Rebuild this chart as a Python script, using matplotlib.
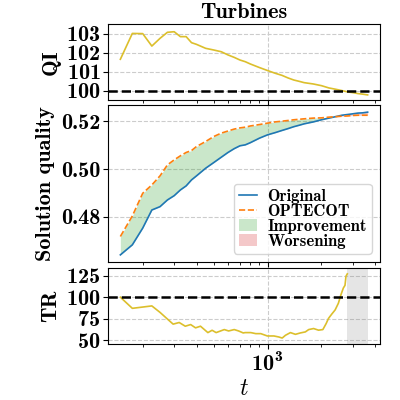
import matplotlib
matplotlib.use('Agg')
import matplotlib.pyplot as plt

plt.rcParams['font.family'] = 'serif'
plt.rcParams['font.serif'] = ['cmb10', 'DejaVu Serif']
plt.rcParams['mathtext.fontset'] = 'cm'
plt.rcParams['axes.formatter.use_mathtext'] = True

# shared time grid for QI and solution quality
t = [150, 175, 200, 225, 250, 275, 300, 325, 350, 375, 400, 450, 500, 550, 600,
     650, 700, 750, 800, 900, 1000, 1100, 1200, 1300, 1400, 1500, 1600, 1800,
     2000, 2200, 2400, 2600, 2800, 3000, 3200, 3400, 3625]

qi = [101.66, 103.03, 103.02, 102.36, 102.77, 103.09, 103.12, 102.86, 102.86,
      102.54, 102.45, 102.24, 102.15, 102.06, 101.89, 101.76, 101.62, 101.53,
      101.41, 101.22, 101.06, 100.92, 100.81, 100.67, 100.56, 100.49, 100.42,
      100.35, 100.26, 100.14, 100.07, 100.0, 99.93, 99.89, 99.84, 99.81, 99.77]

original = [0.4641, 0.4683, 0.4753, 0.4829, 0.4843, 0.4871, 0.4889, 0.4913,
            0.4930, 0.4955, 0.4972, 0.5004, 0.5028, 0.5050, 0.5070, 0.5086,
            0.5098, 0.5102, 0.5111, 0.5130, 0.5144, 0.5153, 0.5162, 0.5170,
            0.5178, 0.5184, 0.5190, 0.5198, 0.5207, 0.5214, 0.5220, 0.5226,
            0.5229, 0.5232, 0.5235, 0.5236, 0.5239]

optecot = [0.4718, 0.4804, 0.4899, 0.4934, 0.4972, 0.5018, 0.5039, 0.5056,
           0.5070, 0.5078, 0.5095, 0.5116, 0.5137, 0.5151, 0.5160, 0.5168,
           0.5173, 0.5176, 0.5181, 0.5187, 0.5193, 0.5198, 0.5201, 0.5204,
           0.5207, 0.5209, 0.5211, 0.5214, 0.5215, 0.5218, 0.5220, 0.5222,
           0.5223, 0.5225, 0.5226, 0.5226, 0.5226]

# time ratio (ends where it leaves the axis)
t_tr = [150, 175, 225, 250, 275, 296, 320, 346, 371, 395, 421, 463, 489, 515,
        572, 605, 650, 688, 730, 748, 805, 858, 915, 996, 1084, 1156, 1206,
        1258, 1341, 1430, 1524, 1625, 1696, 1807, 1926, 2036, 2125, 2189, 2285,
        2384, 2487, 2562, 2651, 2708, 2743, 2790]
tr = [100, 87.1, 89.9, 82.4, 74.7, 68.8, 70.7, 66.4, 68.3, 64.5, 66.4, 59.0,
      61.7, 59.0, 62.5, 60.9, 62.5, 60.9, 58.6, 59.0, 59.0, 57.8, 57.8, 55.1,
      55.1, 53.9, 52.7, 55.9, 59.0, 57.0, 58.6, 59.8, 62.5, 63.7, 61.8, 62.5,
      69.5, 75.4, 80.5, 85.2, 93.0, 102.0, 110.6, 113.7, 124.3, 127.0]

yellow = '#dcbf2c'
fs = 16

fig = plt.figure(figsize=(4, 4), dpi=100)
ax1 = fig.add_axes([0.27, 0.75, 0.68, 0.19])
ax2 = fig.add_axes([0.27, 0.345, 0.68, 0.3925], sharex=ax1)
ax3 = fig.add_axes([0.27, 0.14, 0.68, 0.19], sharex=ax1)

for ax in (ax1, ax2, ax3):
    ax.set_xscale('log')
    ax.grid(True, which='major', linestyle='--', color='#cccccc', linewidth=0.8)
    ax.set_axisbelow(True)
    ax.tick_params(labelsize=fs, pad=2)

# QI
ax1.plot(t, qi, color=yellow, lw=1.2)
ax1.axhline(100, color='black', ls='--', lw=1.8)
ax1.set_ylim(99.5, 103.53)
ax1.set_yticks([100, 101, 102, 103])
ax1.set_ylabel('QI', fontsize=fs)
ax1.set_title('Turbines', fontsize=fs, pad=4)
ax1.tick_params(labelbottom=False)

# solution quality
ax2.plot(t, original, color='tab:blue', lw=1.2, label='Original')
ax2.plot(t, optecot, color='tab:orange', ls='--', lw=1.2, label='OPTECOT')
better = [o >= b for o, b in zip(optecot, original)]
worse = [o <= b for o, b in zip(optecot, original)]
ax2.fill_between(t, original, optecot, where=better, interpolate=True,
                 color='tab:green', alpha=0.25, lw=0, label='Improvement')
ax2.fill_between(t, original, optecot, where=worse, interpolate=True,
                 color='tab:red', alpha=0.25, lw=0, label='Worsening')
ax2.set_yticks([0.48, 0.50, 0.52])
ax2.set_yticklabels(['0.48', '0.50', '0.52'])
ax2.set_ylabel('Solution quality', fontsize=fs)
ax2.legend(loc='lower right', fontsize=12, handlelength=1.1,
           labelspacing=0.0, borderpad=0.3, handletextpad=0.6)
ax2.tick_params(labelbottom=False)

# TR
ax3.plot(t_tr, tr, color=yellow, lw=1.2)
ax3.axhline(100, color='black', ls='--', lw=1.8)
ax3.axvspan(t_tr[-1], t[-1], color='grey', alpha=0.2, lw=0)
ax3.set_ylim(45.8, 133.8)
ax3.set_yticks([50, 75, 100, 125])
ax3.set_ylabel('TR', fontsize=fs)
ax3.set_xlabel('$t$', fontsize=17, labelpad=2)

fig.align_ylabels([ax1, ax2, ax3])
fig.savefig('out.png', dpi=100)
